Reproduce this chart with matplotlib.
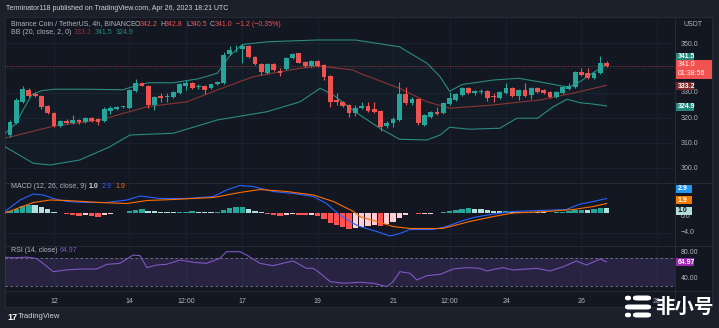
import numpy as np
import matplotlib.pyplot as plt
from matplotlib.patches import Rectangle, FancyBboxPatch

W, H = 719, 328
BG = '#131722'; OUT = '#1c202b'; GRID = '#1d2130'; TXT = '#b2b5be'
UP = '#26a69a'; DN = '#ef5350'

# candles (4h, Apr 10 20:00 -> Apr 26 16:00)
opens = [313.3, 318.2, 326.6, 331.3, 329.5, 328.9, 324.9, 322.0, 317.0, 319.0,
         318.0, 319.3, 318.5, 320.0, 319.8, 318.9, 322.8, 323.5, 324.5, 324.0,
         331.0, 334.0, 333.0, 325.3, 328.9, 328.5, 328.4, 330.2, 333.0, 334.0,
         332.5, 333.0, 332.0, 333.5, 334.0, 345.5, 347.5, 347.5, 348.9, 344.6,
         341.7, 338.2, 341.7, 339.0, 339.6, 344.0, 345.9, 342.5, 341.0, 343.0,
         341.3, 336.9, 327.3, 326.6, 325.3, 322.2, 324.0, 324.9, 323.6, 323.0,
         317.0, 318.0, 319.3, 329.6, 326.0, 327.6, 317.3, 320.6, 322.6, 322.0,
         325.7, 327.3, 329.3, 332.0, 330.0, 330.6, 331.0, 328.8, 328.0, 330.0,
         332.0, 328.9, 331.3, 329.3, 332.0, 331.3, 330.6, 328.6, 330.2, 331.6,
         332.6, 338.6, 338.2, 336.0, 338.0, 342.2]
highs = [319.3, 328.0, 332.9, 332.0, 330.6, 329.2, 325.3, 322.4, 319.4, 319.5,
         321.3, 319.8, 320.4, 320.5, 320.2, 324.5, 325.0, 325.0, 325.0, 331.8,
         335.5, 334.6, 333.4, 328.9, 330.0, 330.0, 330.9, 334.0, 335.3, 334.4,
         333.5, 333.3, 333.8, 335.0, 346.5, 349.0, 349.3, 349.5, 349.2, 345.0,
         342.0, 342.1, 342.0, 340.0, 344.3, 346.2, 346.2, 342.8, 343.4, 343.3,
         341.6, 337.2, 330.0, 327.0, 325.6, 325.3, 326.6, 326.6, 326.6, 323.3,
         318.8, 320.6, 334.6, 332.6, 328.4, 328.0, 321.6, 323.0, 324.6, 326.4,
         330.6, 330.1, 332.4, 332.4, 331.3, 331.6, 331.4, 330.0, 330.9, 334.2,
         332.4, 331.7, 334.2, 332.4, 332.3, 331.6, 331.0, 331.0, 332.7, 334.0,
         339.0, 340.0, 340.0, 338.6, 344.9, 342.8]
lows = [312.6, 317.5, 326.0, 328.5, 328.4, 323.8, 321.5, 316.3, 316.6, 317.6,
        317.7, 317.9, 318.1, 318.6, 317.3, 318.5, 321.8, 323.2, 324.1, 323.7,
        330.6, 332.7, 324.0, 323.3, 326.6, 326.6, 328.0, 329.9, 331.3, 331.6,
        331.5, 329.6, 331.6, 333.2, 333.7, 345.1, 346.3, 342.0, 344.2, 341.3,
        337.3, 337.8, 338.9, 336.9, 339.2, 343.6, 341.9, 340.5, 340.6, 340.5,
        335.3, 324.6, 325.3, 324.5, 320.6, 320.9, 323.7, 322.6, 322.2, 315.0,
        316.2, 316.6, 318.9, 325.3, 325.3, 317.3, 316.9, 320.2, 321.3, 321.6,
        325.3, 326.9, 328.9, 329.6, 329.3, 329.8, 327.0, 326.6, 327.6, 329.6,
        328.5, 327.3, 328.5, 327.6, 330.2, 329.6, 328.2, 328.2, 329.8, 331.2,
        332.2, 336.9, 335.6, 335.6, 337.6, 340.5]
closes = [318.6, 327.3, 331.6, 328.9, 329.0, 324.6, 322.0, 316.9, 319.0, 318.0,
          319.3, 318.3, 320.0, 319.0, 318.5, 323.6, 324.0, 324.6, 324.7, 331.3,
          334.0, 333.0, 325.3, 328.6, 328.0, 328.8, 330.6, 333.6, 334.2, 332.0,
          332.8, 331.3, 333.5, 334.6, 345.3, 347.3, 347.8, 348.9, 344.6, 341.7,
          338.6, 341.7, 339.3, 338.0, 344.0, 345.7, 342.2, 340.9, 343.0, 340.9,
          336.4, 326.6, 326.4, 324.9, 322.2, 324.0, 325.0, 323.0, 322.6, 316.6,
          318.0, 319.7, 329.6, 326.2, 327.6, 318.0, 321.3, 322.6, 321.7, 326.0,
          328.0, 329.7, 332.0, 330.0, 331.0, 330.8, 328.0, 328.5, 330.6, 332.0,
          328.9, 331.3, 328.9, 332.0, 330.6, 330.0, 328.6, 330.6, 332.3, 332.9,
          338.6, 337.3, 336.0, 338.2, 342.2, 341.0]

# bollinger bands (candle index, value)
bb_up_x = [-0.8, 1, 2, 3.5, 5, 7, 12, 18, 20, 22, 26, 30, 33, 35, 37, 41, 49, 55,
           62, 66.4, 68.5, 70, 72, 77, 81, 84, 89, 91, 93, 95]
bb_up = [314, 318, 323, 329.5, 331.0, 331.6, 331.6, 331.4, 333, 334.2, 334.2, 335.8,
         338.0, 345, 349.5, 350.6, 351.3, 351.3, 348.6, 342, 336.6, 330.8, 333.5,
         335.3, 336, 334.7, 332.4, 335, 338.5, 341.5]
bb_mid_x = [-0.8, 7, 14.3, 21.8, 28.2, 33, 38.7, 46.2, 49.4, 54.6, 55.7, 62, 66.4,
            70, 76.9, 84.4, 89.6, 95]
bb_mid = [312, 316.9, 319.3, 324.6, 326.6, 331.3, 336.6, 340, 340.9, 339.3, 338,
          332, 326.6, 324, 325.3, 327.3, 330, 333.2]
bb_lo_x = [-0.8, 3.7, 6.4, 11.1, 15.9, 19.1, 26, 33, 40.9, 46.2, 49.4, 51.5, 54.6,
           55.7, 58.9, 62, 66.4, 68.5, 70, 73.2, 78, 80.7, 84, 86.5, 88.7, 90.8, 92.8, 95]
bb_lo = [308.6, 302, 301.3, 303.3, 308.6, 313.3, 314, 319.3, 322.6, 326.6, 332,
         329.3, 323.3, 321.3, 316, 311.6, 311.3, 313.3, 316.4, 315.6, 316, 320, 320,
         324.6, 327.6, 326.2, 325.7, 324.9]

# macd
hist = [0.4, 0.9, 1.4, 1.7, 1.6, 1.3, 0.8, 0.3, 0.05, -0.2, -0.4, -0.5, -0.4, -0.6,
        -0.7, -0.3, -0.1, 0.05, 0.1, 0.4, 0.7, 0.8, 0.4, 0.35, 0.3, 0.25, 0.2, 0.25,
        0.3, 0.35, 0.25, 0.2, 0.15, 0.2, 0.7, 1.0, 1.2, 1.25, 0.9, 0.5, 0.2, -0.1,
        -0.3, -0.5, -0.3, -0.1, -0.3, -0.4, -0.35, -0.6, -1.2, -2.0, -2.4, -2.8, -3.1,
        -2.9, -2.7, -2.5, -2.3, -2.6, -2.2, -1.8, -1.0, -0.3, -0.05, -0.2, -0.15, -0.1,
        0.05, 0.3, 0.5, 0.7, 0.9, 0.95, 0.85, 0.8, 0.6, 0.5, 0.45, 0.5, 0.3, 0.3, 0.2,
        0.25, 0.2, 0.15, 0.1, 0.15, 0.25, 0.35, 0.6, 0.7, 0.6, 0.8, 1.1, 1.0]
macd_x = [-0.8, 1.6, 3.7, 5.3, 6.9, 9.0, 12.2, 15.4, 18.6, 20.7, 23.9, 28.1, 32.4,
          34.5, 36.6, 38.7, 41.9, 45.1, 48.3, 50.4, 52.5, 54.7, 55.7, 58.4, 60.5,
          62.1, 63.7, 67.4, 69.5, 71.7, 73.8, 77.0, 80.1, 84.4, 88.6, 90.8, 92.9, 95]
macd = [0.3, 2.6, 3.8, 3.6, 2.9, 2.3, 2.1, 2.1, 2.6, 3.4, 2.9, 2.9, 3.3, 4.6, 5.5,
        5.3, 4.3, 3.9, 3.3, 1.9, -0.4, -2.1, -2.7, -3.7, -4.6, -4.1, -3.3, -3.3,
        -2.7, -1.7, -0.9, -0.2, 0.3, 0.5, 0.7, 1.8, 2.3, 2.9]
sig_x = [-0.8, 3.7, 6.4, 9.0, 14.3, 18.6, 21.8, 26.0, 32.4, 36.6, 39.8, 44.1, 48.3,
         51.5, 54.7, 55.7, 58.9, 61.0, 63.7, 68.9, 73.2, 77.0, 80.1, 85.5, 89.7, 92.9, 95]
signal = [0.0, 2.1, 2.6, 2.5, 2.1, 1.9, 2.5, 2.7, 3.1, 4.1, 4.7, 4.3, 3.6, 2.3, 0.3,
          -0.7, -1.9, -2.7, -3.1, -3.1, -1.7, -0.7, 0.0, 0.3, 0.7, 1.3, 1.9]

# rsi
rsi_x = [-0.8, 0.5, 2.7, 4.2, 5.3, 6.9, 9.0, 11.1, 13.8, 15.4, 17.5, 18.6, 19.6, 20.7,
         21.8, 23.4, 24.9, 27.1, 29.2, 31.3, 33.4, 34.5, 36.6, 37.7, 39.8, 41.9, 44.1,
         45.1, 47.2, 48.3, 49.4, 51.0, 53.1, 55.7, 57.9, 60.0, 61.0, 62.1, 63.7, 64.8,
         66.4, 68.5, 70.6, 72.7, 74.8, 75.9, 78.5, 80.1, 82.3, 83.9, 86.0, 88.1, 90.2,
         91.8, 94.0, 95]
rsi = [72, 71, 72, 70, 62.6, 50.7, 53.2, 54.6, 54.6, 61.4, 62.9, 69.3, 75, 74.2, 56.6,
       60.5, 61.4, 67.8, 64.4, 62.9, 70.2, 80, 80, 75, 62.9, 59.5, 64.4, 66.3, 55.6,
       55.6, 48.3, 36.1, 33.7, 35.2, 33.7, 28.8, 36.1, 50.7, 48.3, 38.5, 44.9, 46.8,
       54.6, 56.6, 55.6, 51.7, 56.6, 53.2, 54.6, 55.6, 51.7, 58, 66.3, 60.5, 69.3, 64.97]

tick_idx = [7, 19, 28, 37, 49, 61, 70, 79, 91, 103]
tick_lab = ['12', '14', '12:00', '17', '19', '21', '12:00', '24', '26', '28']

plt.rcParams['font.family'] = ['Liberation Sans', 'DejaVu Sans']
fig = plt.figure(figsize=(W / 100, H / 100), dpi=100, facecolor=OUT)


def rect(x0, y0, x1, y1):
    return [x0 / W, 1 - y1 / H, (x1 - x0) / W, (y1 - y0) / H]


def ftext(x, y, s, **kw):
    kw.setdefault('color', TXT)
    kw.setdefault('fontsize', 5)
    fig.text(x / W, 1 - y / H, s, va='center', ha=kw.pop('ha', 'left'), **kw)


# chart frame (behind the panes)
fig.patches.append(Rectangle((5 / W, 1 - 307 / H), 707 / W, 290 / H, transform=fig.transFigure,
                             fc=BG, ec='#2a2e39', lw=0.6, zorder=-5))

xlim = (-0.8, 105.9)
ax1 = fig.add_axes(rect(5, 17, 675, 183))
ax2 = fig.add_axes(rect(5, 183, 675, 246))
ax3 = fig.add_axes(rect(5, 246, 675, 291))
for ax in (ax1, ax2, ax3):
    ax.set_facecolor('none')
    ax.set_zorder(1)
    ax.set_xlim(*xlim)
    for s in ax.spines.values():
        s.set_visible(False)
    ax.set_yticks([])
    ax.set_xticks([])
    for t in tick_idx:
        ax.axvline(t, color=GRID, lw=0.6, zorder=0)

# separators
for yy in (183, 246, 291):
    fig.add_artist(plt.Line2D([5 / W, 712 / W], [1 - yy / H] * 2, color='#2a2e39', lw=0.6, zorder=-4))
fig.add_artist(plt.Line2D([675 / W] * 2, [1 - 17 / H, 1 - 307 / H], color='#2a2e39', lw=0.6, zorder=-4))

# main pane
ax1.set_ylim(294.1, 360.5)
for p in (300, 310, 320, 330, 340, 350):
    ax1.axhline(p, color=GRID, lw=0.6, zorder=0)
ax1.fill_between(bb_up_x, bb_up, np.interp(bb_up_x, bb_lo_x, bb_lo), color=UP, alpha=0.04, lw=0)
ax1.plot(bb_up_x, bb_up, color='#2b8a80', lw=0.8)
ax1.plot(bb_lo_x, bb_lo, color='#2b8a80', lw=0.8)
ax1.plot(bb_mid_x, bb_mid, color='#8a3434', lw=0.8)
ax1.axhline(closes[-1], color=DN, lw=0.5, ls=(0, (1, 1.5)), alpha=0.8)

x = np.arange(len(closes))
o = np.array(opens); c = np.array(closes)
cols = [UP if cc >= oo else DN for oo, cc in zip(o, c)]
ax1.vlines(x, lows, highs, color=cols, lw=0.8, zorder=3)
ax1.bar(x, np.maximum(np.abs(c - o), 0.35), bottom=np.minimum(o, c), width=0.76,
        color=cols, zorder=4)

# macd pane
ax2.set_ylim(-6.6, 6.0)
ax2.axhline(-4, color=GRID, lw=0.6, zorder=0)
hcol = []
prev = 0
for h in hist:
    if h >= 0:
        hcol.append('#26a69a' if h > prev else '#b2dfdb')
    else:
        hcol.append('#ff5252' if h < prev else '#ffcdd2')
    prev = h
ax2.bar(x, hist, width=0.85, color=hcol, zorder=2)
ax2.plot(macd_x, macd, color='#2962ff', lw=0.8, zorder=3)
ax2.plot(sig_x, signal, color='#ff6d00', lw=0.8, zorder=3)

# rsi pane
ax3.set_ylim(22.4, 88.3)
ax3.axhspan(30, 70, color='#7e57c2', alpha=0.2, lw=0)
ax3.axhline(70, color='#787b86', lw=0.6, ls=(0, (3, 3)))
ax3.axhline(30, color='#787b86', lw=0.6, ls=(0, (3, 3)))
ax3.plot(rsi_x, rsi, color='#7e57c2', lw=0.8)
ax3.set_xticks(tick_idx)
ax3.set_xticklabels(tick_lab)
ax3.tick_params(axis='x', length=0, pad=5, labelsize=5, labelcolor=TXT)

# texts
ftext(6, 8, 'Terminator118 published on TradingView.com, Apr 26, 2023 18:21 UTC', color='#d1d4dc')
ftext(11, 24, 'Binance Coin / TetherUS, 4h, BINANCE')
for xx, s, col in [(135, 'O', TXT), (139.5, '342.2', DN), (160, 'H', TXT), (164.5, '342.8', DN),
                   (186, 'L', TXT), (189.5, '340.5', DN), (210, 'C', TXT), (214.5, '341.0', DN),
                   (236, '\u22121.2 (\u22120.35%)', DN)]:
    ftext(xx, 24, s, color=col)
ftext(11, 33, 'BB (20, close, 2, 0)')
ftext(74, 33, '333.2', color='#8a3434')
ftext(95, 33, '341.5', color='#2b8a80')
ftext(116, 33, '324.9', color='#2b8a80')
ftext(11, 187, 'MACD (12, 26, close, 9)')
ftext(89, 187, '1.0', color='#d1d4dc', fontweight='bold')
ftext(102, 187, '2.9', color='#2962ff')
ftext(115, 187, '1.9', color='#ff6d00')
ftext(11, 251, 'RSI (14, close)')
ftext(60, 251, '64.97', color='#7e57c2')

# right scale
ftext(683, 24, 'USDT')
for yy, s in [(44, '350.0'), (93, '330.0'), (118, '320.0'), (143, '310.0'), (168, '300.0'),
              (216, '0.0'), (233, '\u22124.0'), (252, '80.00'), (279, '40.00')]:
    ftext(681, yy, s)


def badge(y, s, fc, tc='white', h=8, w=18):
    fig.patches.append(Rectangle((676 / W, 1 - (y + h / 2) / H), w / W, h / H,
                                 transform=fig.transFigure, fc=fc, ec='none', zorder=5))
    ftext(678, y, s, color=tc, zorder=6, fontweight='bold')


badge(57, '341.5', '#22877d')
fig.patches.append(Rectangle((676 / W, 1 - 79 / H), 36 / W, 19 / H, transform=fig.transFigure,
                             fc='#f0524f', ec='none', zorder=5))
ftext(678, 65, '341.0', color='white', zorder=6)
ftext(678, 73.5, '01:38:56', color='white', zorder=6)
badge(86, '333.2', '#7a2a2a')
badge(107, '324.9', '#22877d')
badge(189, '2.9', '#2196f3', w=16)
badge(200, '1.9', '#f57c00', w=16)
badge(211, '1.0', '#b2dfdb', tc='#131722', w=16)
badge(262, '64.97', '#9c27b0')

# bottom logos
ftext(7, 317, '17', color='white', fontsize=6.5, fontweight='bold')
ftext(18, 317, 'TradingView', color='#d1d4dc', fontsize=5.5)
for (bx, by, bw) in [(625, 298, 6), (633, 298, 18), (625, 307, 26), (625, 315, 6), (633, 315, 18)]:
    fig.patches.append(FancyBboxPatch((bx / W, 1 - (by + 2.5) / H), bw / W, 5 / H,
                                      boxstyle='round,pad=0,rounding_size=0.006',
                                      transform=fig.transFigure, fc='white', ec='none', zorder=7))
fig.text(655 / W, 1 - 307 / H, '非小号', color='white', fontsize=14, fontweight='bold',
         va='center', ha='left', family=['Noto Sans CJK SC', 'DejaVu Sans'], zorder=7)

fig.savefig('out.png', dpi=100, facecolor=OUT)
